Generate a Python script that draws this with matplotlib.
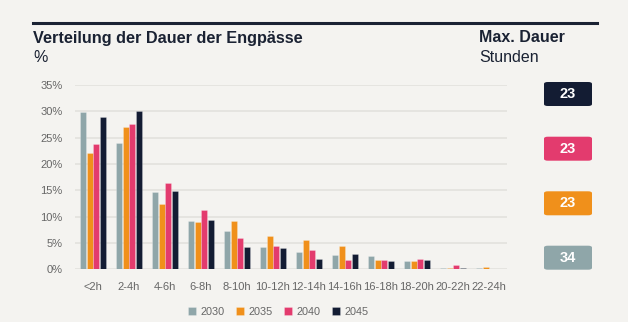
import numpy as np
import matplotlib.pyplot as plt
from matplotlib.patches import FancyBboxPatch

# duration buckets and share of bottleneck events per scenario year (%)
categories = ['<2h', '2-4h', '4-6h', '6-8h', '8-10h', '10-12h', '12-14h',
              '14-16h', '16-18h', '18-20h', '20-22h', '22-24h']
years = ['2030', '2035', '2040', '2045']
share_2030 = [29.8, 24.0, 14.6, 9.1, 7.2, 4.2, 3.3, 2.7, 2.5, 1.6, 0.3, 0.25]
share_2035 = [22.1, 27.0, 12.4, 8.9, 9.2, 6.3, 5.5, 4.4, 1.7, 1.6, 0.25, 0.4]
share_2040 = [23.8, 27.6, 16.4, 11.2, 5.9, 4.5, 3.7, 1.8, 1.7, 1.9, 0.8, 0.1]
share_2045 = [29.0, 30.0, 14.9, 9.3, 4.2, 4.0, 2.0, 2.9, 1.5, 1.8, 0.15, 0.0]
max_hours = ['34', '23', '23', '23']  # 2030, 2035, 2040, 2045

colors = ['#8fa6a9', '#f0901b', '#e33b6e', '#131c33']
bg = '#f4f3f0'
grey_txt = '#666666'
navy = '#1a2233'

plt.rcParams['font.family'] = ['Liberation Sans', 'DejaVu Sans']

fig = plt.figure(figsize=(6.28, 3.22), dpi=100, facecolor=bg)
ax = fig.add_axes([0.1194, 0.1637, 0.6879, 0.5723], facecolor=bg)

series = [share_2030, share_2035, share_2040, share_2045]
x = np.arange(len(categories))
pitch = 0.181
width = 0.165
for i, (vals, c, yr) in enumerate(zip(series, colors, years)):
    ax.bar(x + (i - 1.5) * pitch, vals, width=width, color=c, label=yr,
           edgecolor=(1, 1, 1, 0.25), linewidth=0.6, zorder=3)

ax.set_xlim(-0.5, len(categories) - 0.5)
ax.set_ylim(0, 35)
ax.set_yticks(range(0, 36, 5))
ax.set_yticklabels([f'{v}%' for v in range(0, 36, 5)])
ax.set_xticks(x)
ax.set_xticklabels(categories)
ax.tick_params(axis='both', length=0, labelsize=8.0, colors=grey_txt)
ax.tick_params(axis='y', pad=9)
ax.tick_params(axis='x', pad=9)
ax.grid(axis='y', color='#e2e1dd', linewidth=1.2, zorder=0)
for s in ax.spines.values():
    s.set_visible(False)

leg = fig.legend(loc='lower center', bbox_to_anchor=(0.443, -0.015), ncol=4,
                 frameon=False, fontsize=7.8, handlelength=0.75, handleheight=0.75,
                 handletextpad=0.45, columnspacing=1.0)
for t in leg.get_texts():
    t.set_color(grey_txt)

# header rule and titles
fig.add_artist(plt.Line2D([33 / 628, 597 / 628], [1 - 22.5 / 322] * 2,
                          color=navy, linewidth=2.2))
fig.text(33 / 628, 1 - 38 / 322, 'Verteilung der Dauer der Engpässe', fontsize=11.7,
         fontweight='bold', color=navy, va='center')
fig.text(33 / 628, 1 - 57 / 322, '%', fontsize=11.5, color=navy, va='center')
fig.text(479 / 628, 1 - 38 / 322, 'Max. Dauer', fontsize=11.5,
         fontweight='bold', color=navy, va='center')
fig.text(479 / 628, 1 - 57 / 322, 'Stunden', fontsize=11.5, color=navy, va='center')

# max duration badges, 2045 on top down to 2030 at the bottom
box_y = [257.7, 203.3, 148.7, 94.0]
bw, bh = 48 / 628, 24 / 322
for hrs, c, yc in zip(max_hours, colors, box_y):
    cx, cy = 568 / 628, 1 - yc / 322
    fig.add_artist(FancyBboxPatch((cx - bw / 2, cy - bh / 2), bw, bh,
                                  boxstyle='round,pad=0,rounding_size=0.006',
                                  facecolor=c, edgecolor='none',
                                  transform=fig.transFigure))
    fig.text(cx, cy, hrs, fontsize=10.5, fontweight='bold', color='white',
             ha='center', va='center')

fig.savefig('out.png', dpi=100, facecolor=bg)
